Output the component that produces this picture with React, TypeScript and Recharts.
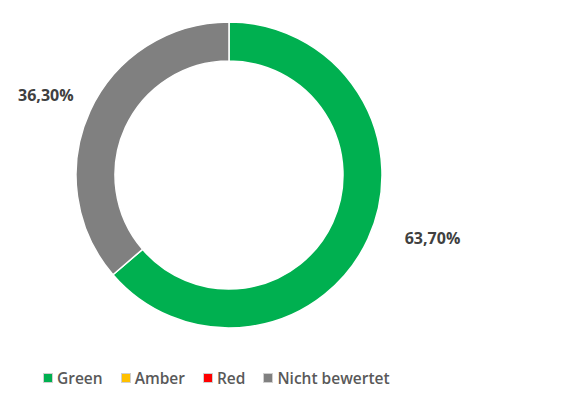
import { PieChart, Pie, Cell, Legend } from 'recharts'

const CATEGORIES = ['Green', 'Amber', 'Red', 'Nicht bewertet']
const SHARES = [63.7, 0, 0, 36.3]
const COLORS = ['#00b050', '#ffc000', '#ff0000', '#808080']

const FONT = '"Open Sans", Lato, sans-serif'

// label placement tweaks (best-fit style, as in the source)
const LABEL_POS: Record<string, { dAngle: number; r: number }> = {
  Green: { dAngle: 7.5, r: 213 },
  'Nicht bewertet': { dAngle: 1, r: 200 },
}

const data = CATEGORIES.map((name, i) => ({ name, value: SHARES[i], color: COLORS[i] })).filter((d) => d.value > 0)

const RADIAN = Math.PI / 180

function fmt(v: number) {
  return v.toFixed(2).replace('.', ',') + '%'
}

function renderLabel(props: any) {
  const { cx, cy, midAngle, value, name } = props
  const pos = LABEL_POS[name] || { dAngle: 0, r: 205 }
  const a = (midAngle + pos.dAngle) * RADIAN
  const x = cx + pos.r * Math.cos(-a)
  const y = cy + pos.r * Math.sin(-a)
  return (
    <text x={x} y={y} fill="#404040" fontFamily={FONT} fontWeight={700} fontSize={16} textAnchor="middle" dominantBaseline="central">
      {fmt(value)}
    </text>
  )
}

function LegendContent() {
  return (
    <div style={{ display: 'flex', gap: 18, fontFamily: FONT, fontWeight: 600, fontSize: 15.5, color: '#595959', lineHeight: '18px' }}>
      {CATEGORIES.map((name, i) => (
        <div key={name} style={{ display: 'flex', alignItems: 'center', gap: 4 }}>
          <span style={{ width: 8, height: 8, background: COLORS[i], border: '1px solid #d0d0d0', display: 'inline-block' }} />
          <span>{name}</span>
        </div>
      ))}
    </div>
  )
}

export default function App() {
  return (
    <div style={{ width: 563, height: 405, background: '#fff' }}>
      <style>{'body{margin:0}'}</style>
      <PieChart width={563} height={405} margin={{ top: 0, right: 0, bottom: 0, left: 0 }}>
        <Pie
          data={data}
          dataKey="value"
          nameKey="name"
          cx={229}
          cy={175}
          innerRadius={114}
          outerRadius={153}
          startAngle={90}
          endAngle={-270}
          stroke="#ffffff"
          strokeWidth={1.5}
          labelLine={false}
          label={renderLabel}
          isAnimationActive={false}
        >
          {data.map((d) => (
            <Cell key={d.name} fill={d.color} />
          ))}
        </Pie>
        <Legend content={<LegendContent />} wrapperStyle={{ position: 'absolute', left: 43, top: 369, width: 'auto' }} />
      </PieChart>
    </div>
  )
}
